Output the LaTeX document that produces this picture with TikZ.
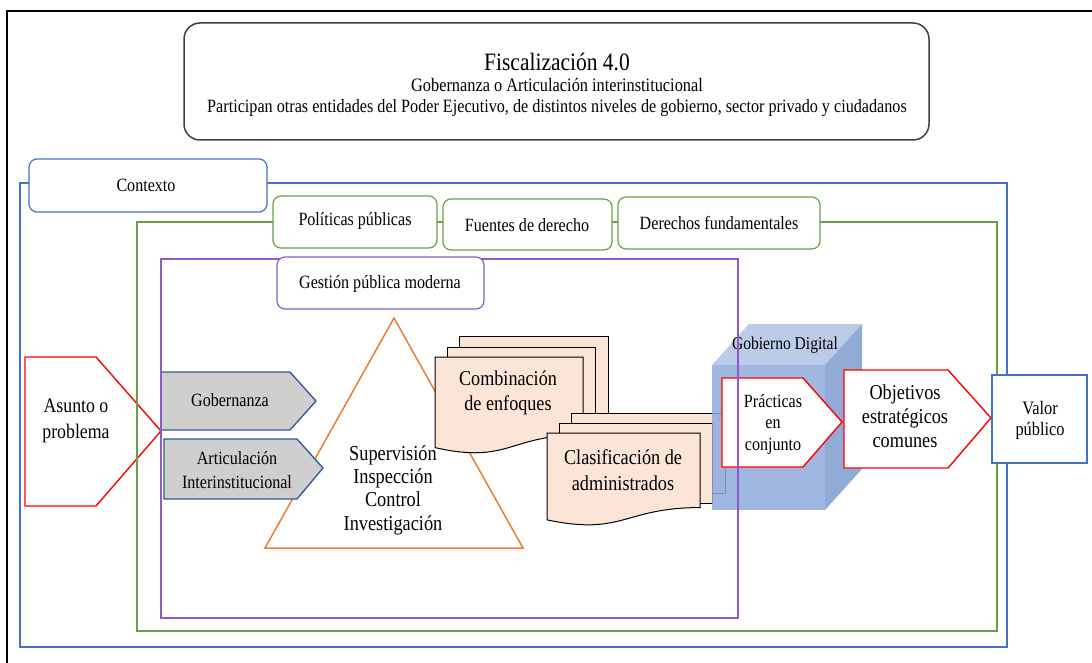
\documentclass[tikz,border=0pt]{standalone}
\usepackage{fontspec}
\setmainfont{Liberation Serif}[FakeStretch=0.86]
\definecolor{cblue}{HTML}{4472C4}
\definecolor{cgreen}{HTML}{6A9F4B}
\definecolor{cpurple}{HTML}{8A5CC4}
\definecolor{corange}{HTML}{ED7D31}
\definecolor{cgray}{HTML}{D0CECE}
\definecolor{cnavy}{HTML}{2F5597}
\definecolor{cpeach}{HTML}{FBE5D6}
\definecolor{ccube}{HTML}{8FAADC}
\definecolor{ccubetop}{HTML}{B4C7E7}
\definecolor{ccubeside}{HTML}{7F9BCF}
\definecolor{ctitle}{HTML}{3F3F3F}
\begin{document}
\begin{tikzpicture}[x=1pt,y=-1pt,
  txt/.style={align=center, inner sep=0pt, font=\fontsize{18.7}{21.5}\selectfont},
  txtL/.style={align=center, inner sep=0pt, font=\fontsize{21.2}{24}\selectfont},
  framebox/.style={line width=1.4pt},
  lblbox/.style={rounded corners=8pt, fill=white, line width=1.2pt},
  redarrow/.style={draw=red, line width=1.4pt, fill=white},
  grayarrow/.style={draw=cnavy, line width=1.3pt, fill=cgray},
  docpage/.style={draw=black, line width=1pt, fill=cpeach},
]
\useasboundingbox (0,0) rectangle (1092,663);
% page frame
\draw[line width=2pt] (7,663) -- (7,11) -- (1092,11);

% title
\draw[ctitle, line width=1.5pt, rounded corners=16pt] (184,23) rectangle (929,140);
\node[inner sep=0pt, anchor=base, font=\fontsize{25}{28}\selectfont] (t1) at (557,71) {Fiscalización 4.0};
\node[inner sep=0pt, anchor=base, font=\fontsize{19}{22}\selectfont] (t2) at (557,92) {Gobernanza o Articulación interinstitucional};
\node[inner sep=0pt, anchor=base, font=\fontsize{18.8}{22}\selectfont] (t3) at (557,113) {Participan otras entidades del Poder Ejecutivo, de distintos niveles de gobierno, sector privado y ciudadanos};

% asunto
\draw[redarrow] (25,357) -- (96,357) -- (161,431) -- (96,506) -- (25,506) -- cycle;

% frames
\draw[cblue, framebox] (20,183) rectangle (1007,647);
\draw[cgreen, framebox] (137,222) rectangle (997,631);

% labels on frames
\draw[cblue, lblbox] (29,159) rectangle (267,212);
\node[txt] (contexto) at (146,185) {Contexto};
\draw[cgreen, lblbox] (273,196) rectangle (437,248);
\node[txt] (politicas) at (355,221) {Políticas públicas};
\draw[cgreen, lblbox] (443,199) rectangle (612,250);
\node[txt] (fuentes) at (527,225) {Fuentes de derecho};
\draw[cgreen, lblbox] (618,197) rectangle (820,249);
\node[txt] (derechos) at (719,223) {Derechos fundamentales};

\node[txtL, font=\fontsize{20.7}{26}\selectfont] (asunto) at (76,421) {Asunto o\\problema};

% triangle
\draw[corange, line width=1.5pt, fill=white] (394,318) -- (523,548) -- (265,548) -- cycle;
\node[txtL, font=\fontsize{21.3}{23.3}\selectfont] (sup) at (393,490) {Supervisión\\Inspección\\Control\\Investigación};

% gray arrows
\draw[grayarrow] (161,372) -- (290,372) -- (316,401) -- (290,430) -- (161,430) -- cycle;
\node[txt] (gob) at (230,400) {Gobernanza};
\draw[grayarrow] (164,439) -- (297,439) -- (323,468) -- (297,499) -- (164,499) -- cycle;
\node[txt, font=\fontsize{18.7}{24}\selectfont] (art) at (237,470) {Articulación\\Interinstitucional};

% Combinacion de enfoques (multidocument)
\draw[docpage] (459,336) rectangle (608,415);
\draw[docpage] (447,347) rectangle (595,425);
\draw[docpage] (435,357) -- (583,357) -- (583,{357+0.802*97})
   .. controls ({435+0.5*148},{357+0.802*97}) and ({435+0.5*148},{357+1.1075*97}) .. (435,{357+0.934*97}) -- cycle;
\node[txtL, font=\fontsize{21.1}{25}\selectfont] (comb) at (508,393) {Combinación\\de enfoques};

% Clasificacion de administrados
\draw[docpage] (571,413) rectangle (725,493);
\draw[docpage] (559,423) rectangle (712,503);
\draw[docpage] (547,433) -- (700,433) -- (700,{433+0.802*93})
   .. controls ({547+0.5*153},{433+0.802*93}) and ({547+0.5*153},{433+1.1075*93}) .. (547,{433+0.934*93}) -- cycle;
\node[txtL, font=\fontsize{21.2}{26}\selectfont] (clas) at (623,470) {Clasificación de\\administrados};

% cube Gobierno Digital
\fill[ccube, opacity=0.85] (712,365) rectangle (825,510);
\fill[ccubetop, opacity=0.9] (712,365) -- (749,324) -- (862,324) -- (825,365) -- cycle;
\fill[ccubeside, opacity=0.85] (825,365) -- (862,324) -- (862,469) -- (825,510) -- cycle;
\node[txt, font=\fontsize{18.1}{21}\selectfont] (gd) at (785,345) {Gobierno Digital};

% red arrows and value box
\draw[redarrow] (722,378) -- (803,378) -- (842,422) -- (803,467) -- (722,467) -- cycle;
\node[txt] (prac) at (773,424) {Prácticas\\en\\conjunto};
\draw[redarrow] (844,370) -- (948,370) -- (991,418) -- (948,468) -- (844,468) -- cycle;
\node[txtL] (obj) at (905,416) {Objetivos\\estratégicos\\comunes};
\draw[cblue, line width=1.3pt, fill=white] (992,375) rectangle (1087,463);
\node[txt, font=\fontsize{19}{21}\selectfont] (valor) at (1040,420) {Valor\\público};

% purple frame and label
\draw[cpurple, framebox] (161,259) rectangle (738,618);
\draw[cpurple, lblbox] (277,257) rectangle (484,309);
\node[txt] (gestion) at (380,284) {Gestión pública moderna};
\end{tikzpicture}
\end{document}
